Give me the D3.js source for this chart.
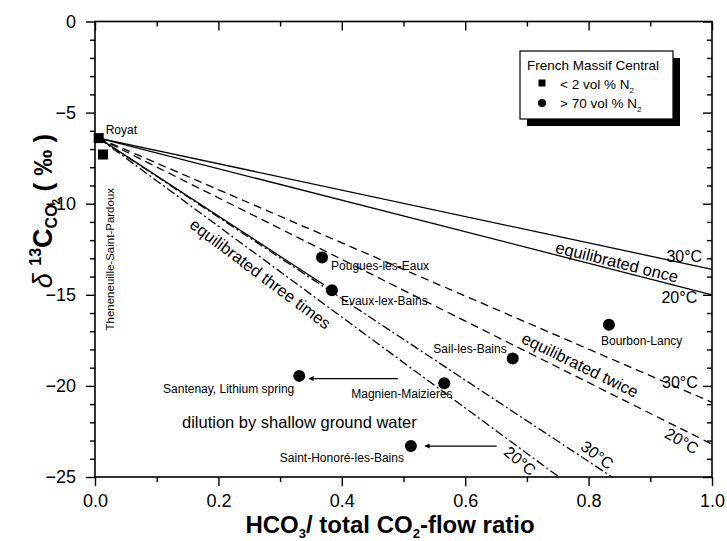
<!DOCTYPE html>
<html>
<head>
<meta charset="utf-8">
<script src="https://cdn.jsdelivr.net/npm/d3@7"></script>
<style>
  body { margin: 0; background: #fff; }
  svg { font-family: "Liberation Sans", Arial, sans-serif; }
</style>
</head>
<body>
<div class="chart-container"></div>
<script>
// Axis ticks
const xMajor = [0, 0.2, 0.4, 0.6, 0.8, 1.0];
const xMinor = [0.1, 0.3, 0.5, 0.7, 0.9];
const yMajor = [0, -5, -10, -15, -20, -25];
const yMinor = d3.range(-24, 0).filter(v => v % 5 !== 0);

// Samples: < 2 vol % N2 (squares)
const lowNames = ['Royat', 'Theneneuille-Saint-Pardoux'];
const lowX = [0.006, 0.013];
const lowY = [-6.4, -7.3];

// Samples: > 70 vol % N2 (circles)
const highNames = ['Pougues-les-Eaux', 'Evaux-lex-Bains', 'Bourbon-Lancy', 'Sail-les-Bains',
  'Magnien-Maizieres', 'Santenay, Lithium spring', 'Saint-Honoré-les-Bains'];
const highX = [0.368, 0.384, 0.833, 0.677, 0.566, 0.331, 0.512];
const highY = [-12.95, -14.75, -16.65, -18.5, -19.85, -19.45, -23.3];

// Equilibration lines, all starting at the Royat composition
const lineStart = [0.006, -6.4];
const lineNames = ['once30', 'once20', 'twice30', 'twice20', 'three30', 'three20', 'evaux'];
const lineEndX = [1.0, 1.0, 1.0, 1.0, 0.838, 0.752, 0.371];
const lineEndY = [-13.6, -15.0, -20.9, -23.2, -25, -25, -14.45];

// Dilution arrows
const arrowFromX = [0.491, 0.651];
const arrowToX = [0.347, 0.535];
const arrowY = [-19.6, -23.3];

// Dimensions and margins for the graph
const margin = { top: 21.5, right: 15, bottom: 64, left: 95 },
    width = 727 - margin.left - margin.right,
    height = 541 - margin.top - margin.bottom;

const svgRoot = d3.select('.chart-container')
    .append('svg')
    .attr('width', 727)
    .attr('height', 541);
const svg = svgRoot.append('g')
    .attr('transform', `translate(${margin.left},${margin.top})`);

const x = d3.scaleLinear().domain([0, 1]).range([0, width]);
const y = d3.scaleLinear().domain([-25, 0]).range([height, 0]);

// dash styles per line
const dashOf = {
    once30: null, once20: null, evaux: null,
    twice30: '8,5', twice20: '8,5',
    three30: '9,3,2,3', three20: '9,3,2,3'
};

svg.selectAll('.eq')
    .data(lineNames)
    .enter()
    .append('line')
    .attr('class', 'eq')
    .attr('x1', x(lineStart[0]))
    .attr('y1', y(lineStart[1]))
    .attr('x2', (d, i) => x(lineEndX[i]))
    .attr('y2', (d, i) => y(lineEndY[i]))
    .attr('stroke', '#000')
    .attr('stroke-width', 1.3)
    .attr('stroke-dasharray', d => dashOf[d]);

// Axes
function styleAxis(g) {
    g.select('.domain').remove();
    g.selectAll('.tick line').attr('stroke', '#000').attr('stroke-width', 1.4);
    g.selectAll('.tick text').attr('fill', '#000').style('font-size', '18px')
        .style('font-family', '"Liberation Sans", Arial, sans-serif');
}
svg.append('g').attr('transform', `translate(0,${height})`)
    .call(d3.axisBottom(x).tickValues(xMajor).tickFormat(d3.format('.1f')).tickSize(9).tickPadding(8))
    .call(styleAxis);
svg.append('g').attr('transform', `translate(0,${height})`)
    .call(d3.axisBottom(x).tickValues(xMinor).tickFormat('').tickSize(5))
    .call(styleAxis);
svg.append('g')
    .call(d3.axisTop(x).tickValues(xMajor).tickFormat('').tickSize(-9))
    .call(styleAxis);
svg.append('g')
    .call(d3.axisTop(x).tickValues(xMinor).tickFormat('').tickSize(-5))
    .call(styleAxis);
svg.append('g')
    .call(d3.axisLeft(y).tickValues(yMajor).tickFormat(d3.format('d')).tickSize(9).tickPadding(10))
    .call(styleAxis);
svg.append('g')
    .call(d3.axisLeft(y).tickValues(yMinor).tickFormat('').tickSize(5))
    .call(styleAxis);
svg.append('g').attr('transform', `translate(${width},0)`)
    .call(d3.axisRight(y).tickValues(yMajor).tickFormat('').tickSize(-9))
    .call(styleAxis);
svg.append('g').attr('transform', `translate(${width},0)`)
    .call(d3.axisRight(y).tickValues(yMinor).tickFormat('').tickSize(-5))
    .call(styleAxis);
svg.append('rect')
    .attr('width', width).attr('height', height)
    .attr('fill', 'none').attr('stroke', '#000').attr('stroke-width', 1.6);

// Arrows
svgRoot.append('defs').append('marker')
    .attr('id', 'head')
    .attr('viewBox', '0 0 10 10')
    .attr('refX', 9).attr('refY', 5)
    .attr('markerWidth', 9).attr('markerHeight', 5)
    .attr('markerUnits', 'userSpaceOnUse')
    .attr('orient', 'auto')
    .append('path').attr('d', 'M0,0L10,5L0,10Z').attr('fill', '#000');
svg.selectAll('.arrow')
    .data(arrowY)
    .enter()
    .append('line')
    .attr('x1', (d, i) => x(arrowFromX[i]))
    .attr('x2', (d, i) => x(arrowToX[i]))
    .attr('y1', d => y(d))
    .attr('y2', d => y(d))
    .attr('stroke', '#000')
    .attr('stroke-width', 1.2)
    .attr('marker-end', 'url(#head)');

// Points
svg.selectAll('.sq')
    .data(lowNames)
    .enter()
    .append('rect')
    .attr('x', (d, i) => x(lowX[i]) - 5)
    .attr('y', (d, i) => y(lowY[i]) - 5)
    .attr('width', 10).attr('height', 10)
    .attr('fill', '#000');
svg.selectAll('.dot')
    .data(highNames)
    .enter()
    .append('circle')
    .attr('cx', (d, i) => x(highX[i]))
    .attr('cy', (d, i) => y(highY[i]))
    .attr('r', 6)
    .attr('fill', '#000');

// Sample labels: offset from the point in pixels
const labelPos = {
    'Royat': [7, -4, 'start', 0],
    'Theneneuille-Saint-Pardoux': [11, 176, 'start', -90],
    'Pougues-les-Eaux': [9, 13, 'start', 0],
    'Evaux-lex-Bains': [9, 15, 'start', 0],
    'Bourbon-Lancy': [-8, 20, 'start', 0],
    'Sail-les-Bains': [-6, -6, 'end', 0],
    'Magnien-Maizieres': [-93, 15, 'start', 0],
    'Santenay, Lithium spring': [-5, 17, 'end', 0],
    'Saint-Honoré-les-Bains': [-7, 16, 'end', 0]
};
const allNames = lowNames.concat(highNames);
const allX = lowX.concat(highX);
const allY = lowY.concat(highY);
svg.selectAll('.lab')
    .data(allNames)
    .enter()
    .append('text')
    .attr('transform', (d, i) => {
        const p = labelPos[d];
        return `translate(${x(allX[i]) + p[0]},${y(allY[i]) + p[1]}) rotate(${p[3]})`;
    })
    .attr('text-anchor', d => labelPos[d][2])
    .style('font-size', d => d === 'Theneneuille-Saint-Pardoux' ? '11.5px' : '12px')
    .text(d => d);

// Line annotations: [text, x, y, rotation, anchor, size]
const notes = [
    ['30°C', 0.984, -13.2, 0, 'end', 16],
    ['20°C', 0.976, -15.45, 0, 'end', 16],
    ['30°C', 0.977, -20.12, 0, 'end', 16],
    ['20°C', 0.951, -23.02, 30, 'middle', 16],
    ['30°C', 0.814, -23.79, 37, 'middle', 16],
    ['20°C', 0.689, -24.12, 40, 'middle', 16],
    ['equilibrated once', 0.846, -13.2, 14, 'middle', 16.5],
    ['equilibrated twice', 0.786, -18.85, 26, 'middle', 16.5],
    ['equilibrated three times', 0.268, -13.85, 37, 'middle', 16.5]
];
svg.selectAll('.note')
    .data(notes)
    .enter()
    .append('text')
    .attr('transform', d => `translate(${x(d[1])},${y(d[2])}) rotate(${d[3]})`)
    .attr('text-anchor', d => d[4])
    .attr('dy', d => d[4] === 'middle' ? '0.35em' : 0)
    .style('font-size', d => d[5] + 'px')
    .text(d => d[0]);

svg.append('text')
    .attr('x', x(0.141)).attr('y', y(-22.3))
    .style('font-size', '16.5px')
    .text('dilution by shallow ground water');

// Legend with drop shadow
const legend = svgRoot.append('g').attr('transform', 'translate(520,51)');
legend.append('rect').attr('x', 7).attr('y', 7).attr('width', 153).attr('height', 68).attr('fill', '#000');
legend.append('rect').attr('width', 153).attr('height', 68).attr('fill', '#fff')
    .attr('stroke', '#000').attr('stroke-width', 1.2);
legend.append('text').attr('x', 7).attr('y', 19).style('font-size', '13.5px').text('French Massif Central');
legend.append('rect').attr('x', 18.5).attr('y', 28.5).attr('width', 7).attr('height', 7).attr('fill', '#000');
legend.append('circle').attr('cx', 22).attr('cy', 52).attr('r', 4).attr('fill', '#000');
const l1 = legend.append('text').attr('x', 40).attr('y', 38).style('font-size', '13.5px');
l1.append('tspan').text('<  2 vol  % N');
l1.append('tspan').attr('dy', 4).style('font-size', '8px').text('2');
const l2 = legend.append('text').attr('x', 40).attr('y', 57).style('font-size', '13.5px');
l2.append('tspan').text('> 70 vol  % N');
l2.append('tspan').attr('dy', 4).style('font-size', '8px').text('2');

// X axis title
const xt = svgRoot.append('text')
    .attr('x', 390).attr('y', 533)
    .attr('text-anchor', 'middle')
    .style('font-size', '24px').style('font-weight', 'bold');
xt.append('tspan').text('HCO');
xt.append('tspan').attr('dy', 5).style('font-size', '13px').text('3');
xt.append('tspan').attr('dy', -5).text('/ total CO');
xt.append('tspan').attr('dy', 5).style('font-size', '13px').text('2');
xt.append('tspan').attr('dy', -5).text('-flow ratio');

// Y axis title
const yt = svgRoot.append('text')
    .attr('transform', 'translate(52,211) rotate(-90)')
    .attr('text-anchor', 'middle')
    .style('font-weight', 'bold');
yt.append('tspan').style('font-size', '27px').style('font-style', 'italic').style('font-weight', 'normal').text('δ ');
yt.append('tspan').attr('dy', -11).style('font-size', '16px').text('13');
yt.append('tspan').attr('dy', 11).style('font-size', '27px').text('C');
yt.append('tspan').attr('dy', 5).style('font-size', '16px').text('CO');
yt.append('tspan').attr('dy', 3).style('font-size', '10px').text('2');
yt.append('tspan').attr('dy', -8).style('font-size', '26px').text(' ( ‰ )');
</script>
</body>
</html>
